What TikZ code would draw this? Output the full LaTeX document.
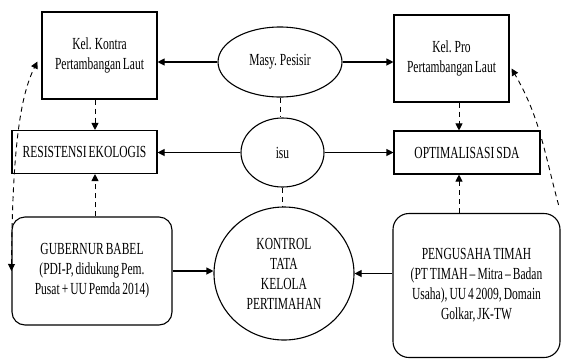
\documentclass[tikz,border=0pt]{standalone}
\usepackage{fontspec}
\setmainfont{Liberation Serif}[FakeStretch=0.68,WordSpace=0.7]
\usetikzlibrary{positioning,shapes.geometric,arrows.meta,calc}

\begin{document}
\begin{tikzpicture}[
    x=1bp, y=-1bp,
    >={Triangle[length=7bp,width=7bp]},
    font=\fontsize{17}{20}\selectfont,
    kelbox/.style={
        draw=black,
        line width=1.1bp,
        minimum width=115bp,
        minimum height=87bp,
        align=center,
        inner sep=2bp
    },
    aim/.style={
        draw=black,
        line width=1.1bp,
        minimum height=43bp,
        align=center,
        inner sep=2bp
    },
    actor/.style={
        draw=black,
        line width=1.1bp,
        rounded corners=13bp,
        align=center,
        inner sep=2bp
    },
    oval/.style={
        draw=black,
        ellipse,
        line width=1.1bp,
        align=center,
        inner sep=0bp
    },
    arr/.style={->, line width=1.1bp},
    dsh/.style={line width=0.9bp, dash pattern=on 5bp off 4bp}
]

\fill[white] (0,0) rectangle (561,358);
\useasboundingbox (0,0) rectangle (561,358);

% top row
\node[kelbox] (kontra) at (99.5,55.5) {Kel. Kontra\\Pertambangan Laut};
\node[oval, minimum width=124bp, minimum height=70bp] (masy) at (280,62) {Masy. Pesisir};
\node[kelbox] (pro) at (451.5,58.5) {Kel. Pro\\Pertambangan Laut};

% middle row
\node[aim, minimum width=145bp] (resist) at (84.5,152) {RESISTENSI EKOLOGIS};
\node[oval, minimum width=83bp, minimum height=69bp] (isu) at (282.5,152.5) {isu};
\node[aim, minimum width=146bp] (optim) at (467,152.5) {OPTIMALISASI SDA};

% bottom row
\node[actor, minimum width=160bp, minimum height=108bp] (gub) at (92,271)
{GUBERNUR BABEL\\(PDI-P, didukung Pem.\\Pusat + UU Pemda 2014)};
\node[oval, minimum width=140bp, minimum height=133bp] (kontrol) at (284,273.5)
{KONTROL\\TATA\\KELOLA\\PERTIMAHAN};
\node[actor, rounded corners=16bp, minimum width=167bp, minimum height=144bp] (peng) at (476.5,285.5)
{PENGUSAHA TIMAH\\(PT TIMAH -- Mitra -- Badan\\Usaha), UU 4 2009, Domain\\Golkar, JK-TW};

% solid arrows
\draw[arr] (masy.west) -- (masy.west -| kontra.east);
\draw[arr] (masy.east) -- (masy.east -| pro.west);
\draw[arr] (isu.west) -- (isu.west -| resist.east);
\draw[arr] (isu.east) -- (isu.east -| optim.west);
\draw[arr] (gub.east) -- (gub.east -| kontrol.west);
\draw[arr] (kontrol.east -| peng.west) -- (kontrol.east);

% dashed links
\draw[dsh, ->] ([xshift=-4.5bp]kontra.south) -- ([xshift=-4.5bp]kontra.south |- resist.north);
\draw[dsh, ->] ([xshift=3bp]gub.north) -- ([xshift=3bp]gub.north |- resist.south);
\draw[dsh, ->] ([xshift=7.5bp]pro.south) -- ([xshift=7.5bp]pro.south |- optim.north);
\draw[dsh, ->] ([xshift=-8bp]optim.south |- peng.north) -- ([xshift=-8bp]optim.south);
\draw[dsh] (masy.south) -- (masy.south |- isu.north);
\draw[dsh] (isu.south) -- (isu.south |- kontrol.north);

% curved links
\draw[dsh, <->] (gub.west) .. controls +(1,-130) and +(-16,32) .. ($(kontra.west)+(-4,6)$);
\draw[dsh, ->] ($(peng.north east)+(-2,-8)$) to[out=105, in=-60] ($(pro.east)+(2,10)$);

\end{tikzpicture}
\end{document}
